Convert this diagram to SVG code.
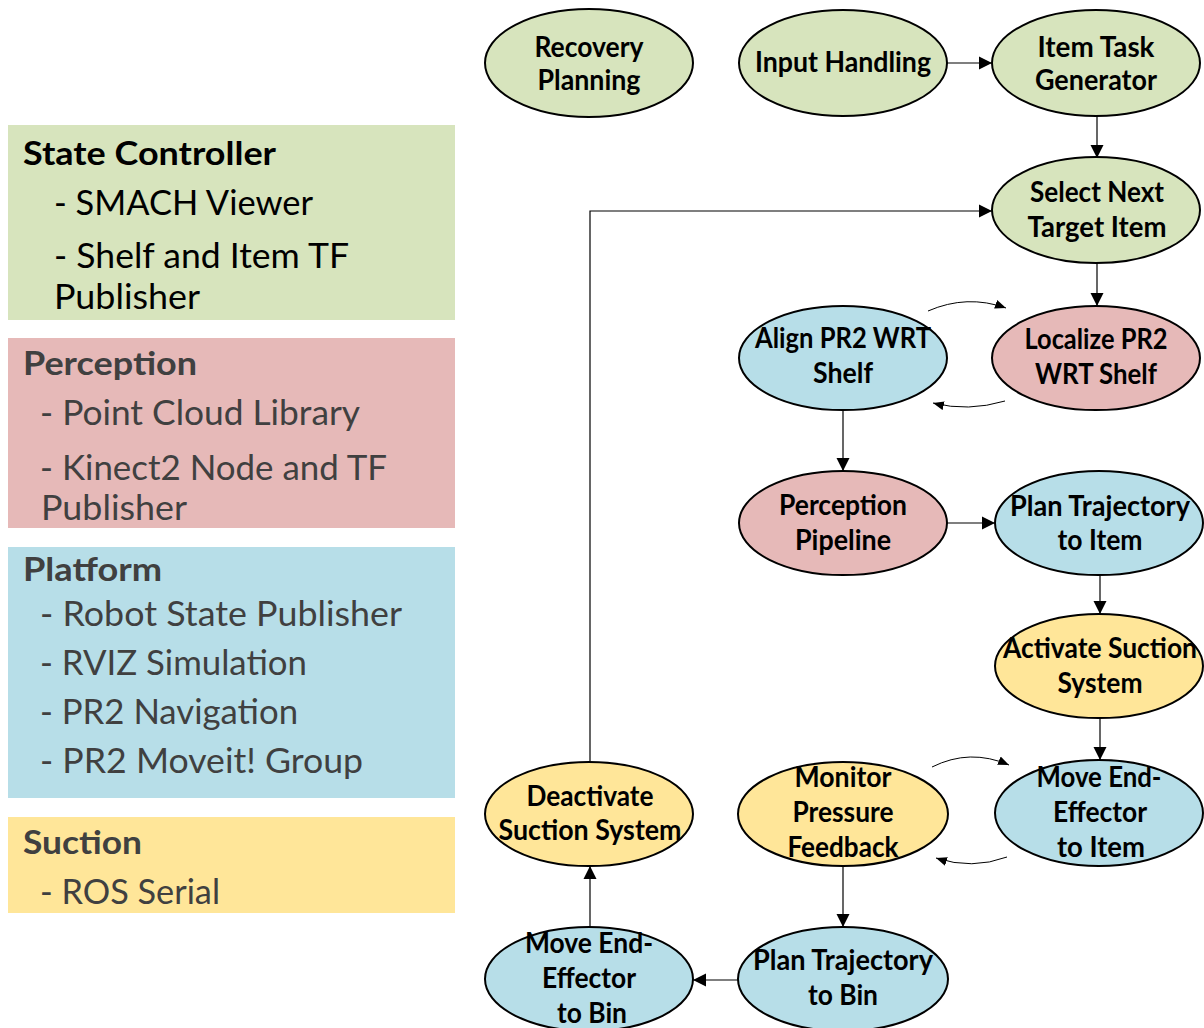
<svg xmlns="http://www.w3.org/2000/svg" width="1204" height="1028" viewBox="0 0 1204 1028">
  <style>
    .green { fill: #d7e4bd; }
    .red { fill: #e6b9b8; }
    .blue { fill: #b7dee8; }
    .yellow { fill: #ffe699; }
    .node ellipse { stroke: #000; stroke-width: 2; }
    .node text { font-family: Lato, "Open Sans", "Liberation Sans", sans-serif; font-weight: bold; font-size: 29px; fill: #000; text-anchor: middle; }
    .legend text { font-family: Lato, "Open Sans", "Liberation Sans", sans-serif; font-size: 35px; fill: #404040; }
    .legend text.head { font-weight: bold; font-size: 32px; }
    .legend .dark text { fill: #000; }
    .edge { fill: none; stroke: #000; stroke-width: 1.2; }
    .loop { fill: none; stroke: #000; stroke-width: 1; }
  </style>
  <defs>
    <marker id="arrow" markerUnits="userSpaceOnUse" markerWidth="14" markerHeight="14" refX="13" refY="7" orient="auto">
      <path d="M0,0.5 L13,7 L0,13.5 z" fill="#000"/>
    </marker>
    <marker id="arrow-small" markerUnits="userSpaceOnUse" markerWidth="12" markerHeight="10" refX="11" refY="5" orient="auto">
      <path d="M0,0.5 L11,5 L0,9.5 z" fill="#000"/>
    </marker>
  </defs>

  <rect width="1204" height="1028" fill="#fff"/>

  <!-- Legend: software components grouped by subsystem -->
  <g class="legend">
    <g id="legend-state-controller" class="dark">
      <rect class="green" x="8" y="125" width="447" height="195"/>
      <text class="head" x="23" y="165" textLength="253" lengthAdjust="spacingAndGlyphs">State Controller</text>
      <text x="54" y="215" textLength="259" lengthAdjust="spacingAndGlyphs">- SMACH Viewer</text>
      <text x="54" y="268" textLength="295" lengthAdjust="spacingAndGlyphs">- Shelf and Item TF</text>
      <text x="54" y="309" textLength="146" lengthAdjust="spacingAndGlyphs">Publisher</text>
    </g>
    <g id="legend-perception">
      <rect class="red" x="8" y="338" width="447" height="190"/>
      <text class="head" x="23" y="375" textLength="174" lengthAdjust="spacingAndGlyphs">Perception</text>
      <text x="40" y="425" textLength="320" lengthAdjust="spacingAndGlyphs">- Point Cloud Library</text>
      <text x="40" y="480" textLength="347" lengthAdjust="spacingAndGlyphs">- Kinect2 Node and TF</text>
      <text x="41" y="520" textLength="146" lengthAdjust="spacingAndGlyphs">Publisher</text>
    </g>
    <g id="legend-platform">
      <rect class="blue" x="8" y="547" width="447" height="251"/>
      <text class="head" x="23" y="581" textLength="139" lengthAdjust="spacingAndGlyphs">Platform</text>
      <text x="40" y="626" textLength="362" lengthAdjust="spacingAndGlyphs">- Robot State Publisher</text>
      <text x="40" y="675" textLength="267" lengthAdjust="spacingAndGlyphs">- RVIZ Simulation</text>
      <text x="40" y="724" textLength="258" lengthAdjust="spacingAndGlyphs">- PR2 Navigation</text>
      <text x="40" y="773" textLength="323" lengthAdjust="spacingAndGlyphs">- PR2 Moveit! Group</text>
    </g>
    <g id="legend-suction">
      <rect class="yellow" x="8" y="817" width="447" height="96"/>
      <text class="head" x="23" y="854" textLength="119" lengthAdjust="spacingAndGlyphs">Suction</text>
      <text x="40" y="904" textLength="180" lengthAdjust="spacingAndGlyphs">- ROS Serial</text>
    </g>
  </g>

  <!-- Connectors -->
  <g id="connectors">
    <line class="edge" x1="947" y1="63" x2="992" y2="63" marker-end="url(#arrow)"/>
    <line class="edge" x1="1097" y1="116" x2="1097" y2="158" marker-end="url(#arrow)"/>
    <line class="edge" x1="1097" y1="263" x2="1097" y2="306" marker-end="url(#arrow)"/>
    <line class="edge" x1="843" y1="410" x2="843" y2="471" marker-end="url(#arrow)"/>
    <line class="edge" x1="947" y1="523" x2="995" y2="523" marker-end="url(#arrow)"/>
    <line class="edge" x1="1100" y1="576" x2="1100" y2="614" marker-end="url(#arrow)"/>
    <line class="edge" x1="1100" y1="718" x2="1100" y2="760" marker-end="url(#arrow)"/>
    <line class="edge" x1="843" y1="866" x2="843" y2="927" marker-end="url(#arrow)"/>
    <line class="edge" x1="738" y1="980" x2="693" y2="980" marker-end="url(#arrow)"/>
    <line class="edge" x1="590" y1="927" x2="590" y2="866" marker-end="url(#arrow)"/>
    <polyline class="edge" points="590,761 590,211 992,211" marker-end="url(#arrow)"/>
    <path class="loop" d="M928,311 Q967,294 1006,308" marker-end="url(#arrow-small)"/>
    <path class="loop" d="M1005,401 Q968,412 933,403" marker-end="url(#arrow-small)"/>
    <path class="loop" d="M932,767 Q970,748 1009,765" marker-end="url(#arrow-small)"/>
    <path class="loop" d="M1007,857 Q972,870 936,858" marker-end="url(#arrow-small)"/>
  </g>

  <!-- State nodes -->
  <g id="recovery-planning" class="node">
    <ellipse class="green" cx="589" cy="63" rx="104" ry="54"/>
    <text x="589" y="57" textLength="109" lengthAdjust="spacingAndGlyphs">Recovery</text>
    <text x="589" y="90" textLength="103" lengthAdjust="spacingAndGlyphs">Planning</text>
  </g>
  <g id="input-handling" class="node">
    <ellipse class="green" cx="843" cy="63" rx="104" ry="53"/>
    <text x="843" y="72" textLength="176" lengthAdjust="spacingAndGlyphs">Input Handling</text>
  </g>
  <g id="item-task-generator" class="node">
    <ellipse class="green" cx="1096" cy="63" rx="104" ry="53"/>
    <text x="1096" y="57" textLength="117" lengthAdjust="spacingAndGlyphs">Item Task</text>
    <text x="1096" y="90" textLength="122" lengthAdjust="spacingAndGlyphs">Generator</text>
  </g>
  <g id="select-next-target" class="node">
    <ellipse class="green" cx="1096" cy="210" rx="104" ry="53"/>
    <text x="1097" y="202" textLength="134" lengthAdjust="spacingAndGlyphs">Select Next</text>
    <text x="1097" y="237" textLength="139" lengthAdjust="spacingAndGlyphs">Target Item</text>
  </g>
  <g id="align-pr2" class="node">
    <ellipse class="blue" cx="843" cy="358" rx="104" ry="52"/>
    <text x="843" y="348" textLength="176" lengthAdjust="spacingAndGlyphs">Align PR2 WRT</text>
    <text x="843" y="383" textLength="60" lengthAdjust="spacingAndGlyphs">Shelf</text>
  </g>
  <g id="localize-pr2" class="node">
    <ellipse class="red" cx="1096" cy="358" rx="104" ry="52"/>
    <text x="1096" y="349" textLength="143" lengthAdjust="spacingAndGlyphs">Localize PR2</text>
    <text x="1096" y="384" textLength="122" lengthAdjust="spacingAndGlyphs">WRT Shelf</text>
  </g>
  <g id="perception-pipeline" class="node">
    <ellipse class="red" cx="843" cy="523" rx="104" ry="52"/>
    <text x="843" y="515" textLength="128" lengthAdjust="spacingAndGlyphs">Perception</text>
    <text x="843" y="550" textLength="96" lengthAdjust="spacingAndGlyphs">Pipeline</text>
  </g>
  <g id="plan-trajectory-item" class="node">
    <ellipse class="blue" cx="1099" cy="523" rx="104" ry="52"/>
    <text x="1100" y="516" textLength="180" lengthAdjust="spacingAndGlyphs">Plan Trajectory</text>
    <text x="1100" y="550" textLength="85" lengthAdjust="spacingAndGlyphs">to Item</text>
  </g>
  <g id="activate-suction" class="node">
    <ellipse class="yellow" cx="1099" cy="666" rx="104" ry="52"/>
    <text x="1100" y="658" textLength="194" lengthAdjust="spacingAndGlyphs">Activate Suction</text>
    <text x="1100" y="693" textLength="85" lengthAdjust="spacingAndGlyphs">System</text>
  </g>
  <g id="move-to-item" class="node">
    <ellipse class="blue" cx="1099" cy="813" rx="104" ry="53"/>
    <text x="1099" y="787" textLength="125" lengthAdjust="spacingAndGlyphs">Move End-</text>
    <text x="1100" y="822" textLength="94" lengthAdjust="spacingAndGlyphs">Effector</text>
    <text x="1101" y="857" textLength="88" lengthAdjust="spacingAndGlyphs">to Item</text>
  </g>
  <g id="monitor-pressure" class="node">
    <ellipse class="yellow" cx="843" cy="814" rx="105" ry="52"/>
    <text x="843" y="787" textLength="97" lengthAdjust="spacingAndGlyphs">Monitor</text>
    <text x="843" y="822" textLength="101" lengthAdjust="spacingAndGlyphs">Pressure</text>
    <text x="843" y="857" textLength="111" lengthAdjust="spacingAndGlyphs">Feedback</text>
  </g>
  <g id="deactivate-suction" class="node">
    <ellipse class="yellow" cx="589" cy="814" rx="104" ry="52"/>
    <text x="590" y="806" textLength="127" lengthAdjust="spacingAndGlyphs">Deactivate</text>
    <text x="590" y="840" textLength="183" lengthAdjust="spacingAndGlyphs">Suction System</text>
  </g>
  <g id="plan-trajectory-bin" class="node">
    <ellipse class="blue" cx="843" cy="979" rx="105" ry="52"/>
    <text x="843" y="970" textLength="180" lengthAdjust="spacingAndGlyphs">Plan Trajectory</text>
    <text x="843" y="1005" textLength="70" lengthAdjust="spacingAndGlyphs">to Bin</text>
  </g>
  <g id="move-to-bin" class="node">
    <ellipse class="blue" cx="589" cy="979" rx="104" ry="52"/>
    <text x="589" y="953" textLength="128" lengthAdjust="spacingAndGlyphs">Move End-</text>
    <text x="589" y="988" textLength="94" lengthAdjust="spacingAndGlyphs">Effector</text>
    <text x="592" y="1023" textLength="70" lengthAdjust="spacingAndGlyphs">to Bin</text>
  </g>
</svg>
